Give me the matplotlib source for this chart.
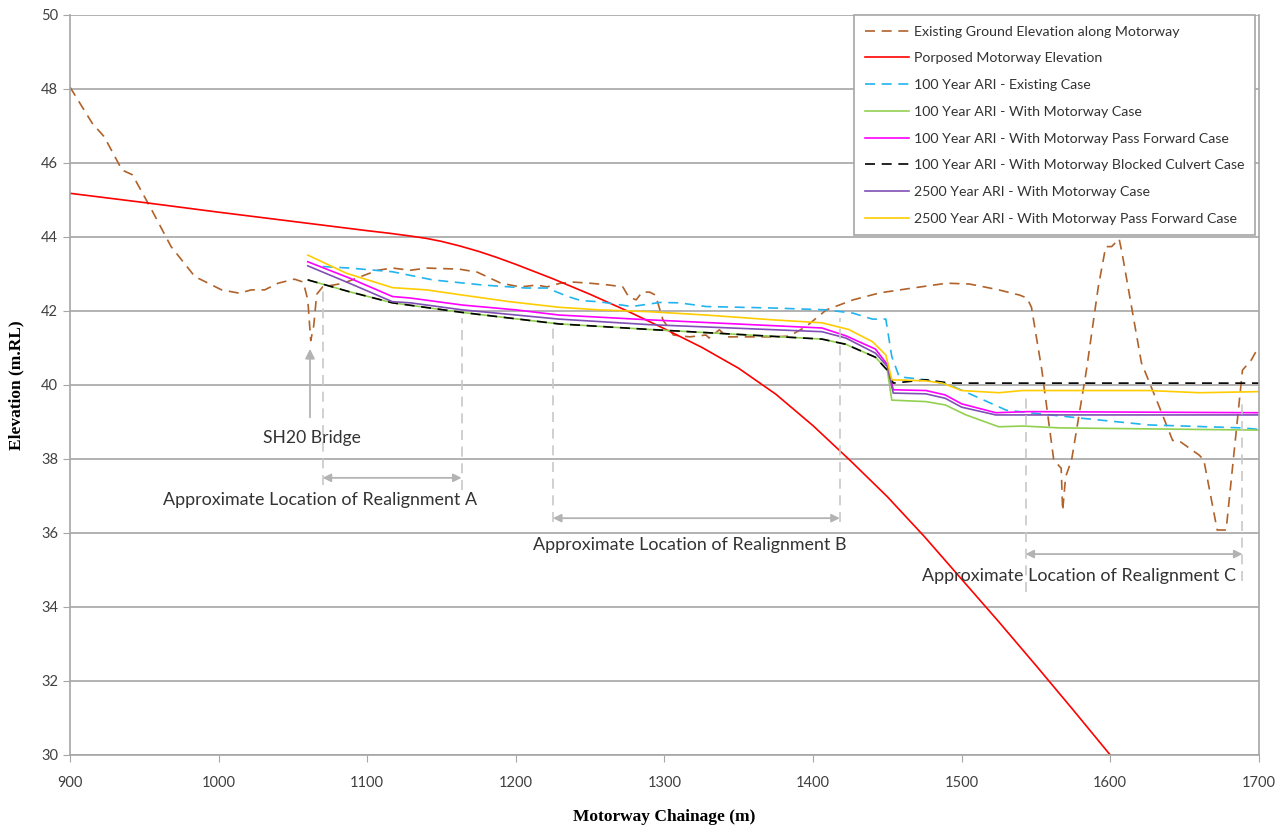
import matplotlib.pyplot as plt

# ------------------ Data ------------------
# existing ground along motorway
ground_x = [900, 915, 923, 935, 942, 955, 968, 984, 1002, 1014, 1022, 1031, 1040, 1051, 1057,
            1060, 1062, 1064, 1066, 1070, 1084, 1095, 1107, 1117, 1129, 1140, 1162, 1174, 1190,
            1203, 1214, 1221, 1230, 1239, 1250, 1263, 1272, 1276, 1281, 1285, 1290, 1294, 1299,
            1306, 1317, 1328, 1330, 1337, 1342, 1373, 1384, 1395, 1409, 1427, 1445, 1467, 1490,
            1505, 1514, 1525, 1539, 1544, 1547, 1554, 1562, 1567, 1568, 1570, 1574, 1584, 1592,
            1597, 1601, 1606, 1608, 1621, 1633, 1642, 1646, 1660, 1663, 1672, 1678, 1689, 1695, 1700]
ground_y = [48.05, 47.07, 46.71, 45.81, 45.68, 44.73, 43.74, 42.93, 42.57, 42.48, 42.57, 42.57, 42.75, 42.86, 42.78,
            42.3, 41.2, 41.6, 42.45, 42.65, 42.75, 42.92, 43.1, 43.16, 43.1, 43.16, 43.13, 43.05, 42.75,
            42.65, 42.7, 42.65, 42.75, 42.78, 42.75, 42.7, 42.65, 42.38, 42.3, 42.51, 42.51, 42.43, 41.76,
            41.35, 41.3, 41.35, 41.27, 41.49, 41.3, 41.3, 41.32, 41.57, 42.03, 42.3, 42.49, 42.62, 42.75,
            42.73, 42.66, 42.57, 42.43, 42.35, 42.1, 40.4, 37.97, 37.75, 36.6, 37.52, 37.97, 40.4, 42.66,
            43.74, 43.74, 43.95, 43.56, 40.6, 39.41, 38.5, 38.5, 38.1, 37.97, 36.08, 36.08, 40.4, 40.68, 41.04]

# proposed motorway
road_x = [900, 950, 1000, 1050, 1100, 1115, 1130, 1140, 1150, 1162, 1175, 1187, 1200, 1225, 1250, 1275, 1300,
          1325, 1350, 1375, 1400, 1425, 1450, 1475, 1500, 1525, 1550, 1575, 1600]
road_y = [45.18, 44.93, 44.67, 44.42, 44.17, 44.1, 44.02, 43.96, 43.88, 43.76, 43.61, 43.45, 43.26, 42.87, 42.45, 42.0, 41.52,
          41.02, 40.45, 39.75, 38.9, 37.96, 36.98, 35.9, 34.75, 33.6, 32.42, 31.22, 30.0]

# 100 yr existing
ex_x = [1070, 1088, 1117, 1144, 1178, 1207, 1221, 1235, 1244, 1256, 1278, 1297, 1310, 1328, 1373, 1409,
        1427, 1440, 1449, 1453, 1458, 1476, 1492, 1510, 1530, 1548, 1581, 1626, 1689, 1700]
ex_y = [43.2, 43.16, 43.06, 42.84, 42.7, 42.62, 42.62, 42.39, 42.28, 42.25, 42.12, 42.23, 42.22, 42.12, 42.08, 42.03,
        41.94, 41.78, 41.78, 40.77, 40.22, 40.14, 40.0, 39.68, 39.32, 39.24, 39.1, 38.92, 38.84, 38.8]

# 100 yr with motorway
wm_x = [1060, 1088, 1117, 1164, 1229, 1290, 1406, 1422, 1442, 1450, 1453, 1476, 1489, 1503, 1525, 1541, 1566, 1700]
wm_y = [42.84, 42.52, 42.22, 41.96, 41.65, 41.5, 41.24, 41.1, 40.75, 40.4, 39.59, 39.55, 39.46, 39.19, 38.87, 38.89, 38.84, 38.78]

# 100 yr pass forward
pf_x = [1060, 1088, 1117, 1129, 1164, 1200, 1229, 1290, 1406, 1422, 1442, 1450, 1454, 1476, 1489, 1500, 1523, 1545, 1700]
pf_y = [43.33, 42.89, 42.39, 42.35, 42.16, 42.03, 41.89, 41.76, 41.54, 41.33, 40.97, 40.55, 39.87, 39.85, 39.73, 39.49, 39.25, 39.28, 39.25]

# 100 yr blocked culvert
bc_x = [1060, 1088, 1117, 1164, 1229, 1290, 1406, 1422, 1442, 1450, 1454, 1476, 1492, 1700]
bc_y = [42.84, 42.52, 42.22, 41.96, 41.65, 41.5, 41.24, 41.1, 40.75, 40.4, 40.05, 40.14, 40.05, 40.05]

# 2500 yr with motorway
w25_x = [1060, 1088, 1117, 1129, 1164, 1229, 1290, 1406, 1422, 1442, 1450, 1454, 1476, 1489, 1500, 1523, 1700]
w25_y = [43.22, 42.75, 42.25, 42.22, 42.03, 41.78, 41.63, 41.44, 41.27, 40.86, 40.5, 39.78, 39.76, 39.64, 39.4, 39.19, 39.19]

# 2500 yr pass forward
pf25_x = [1060, 1086, 1117, 1140, 1164, 1196, 1229, 1256, 1290, 1328, 1373, 1406, 1424, 1440, 1449, 1453, 1462,
          1476, 1487, 1500, 1525, 1541, 1626, 1660, 1700]
pf25_y = [43.51, 43.02, 42.63, 42.57, 42.43, 42.25, 42.1, 42.03, 41.98, 41.89, 41.76, 41.68, 41.5, 41.17, 40.81, 40.14, 40.13,
          40.11, 40.05, 39.85, 39.79, 39.85, 39.85, 39.79, 39.82]

# realignment extents (chainage) and annotation levels
realign_names = ['A', 'B', 'C']
realign_start = [1070, 1225, 1543]
realign_end = [1163.5, 1418, 1689]
realign_arrow_y = [37.49, 36.4, 35.43]
realign_text_x = [1068, 1317, 1579]
realign_text_y = [36.9, 35.68, 34.84]
realign_top = [(42.6, 41.8), (41.7, 41.8), (39.65, 39.6)]
realign_bottom = [(37.3, 37.15), (36.3, 36.3), (34.4, 34.7)]

# ------------------ Plot ------------------
plt.rcParams['font.family'] = ['Lato', 'DejaVu Sans']
fig = plt.figure(figsize=(12.87, 8.27), dpi=100)
ax = fig.add_axes([0.0544, 0.0871, 0.9237, 0.8948])

lw = 1.2
ax.plot(ground_x, ground_y, color='#b0622a', lw=lw, dashes=(6, 4), label='Existing Ground Elevation along Motorway')
ax.plot(road_x, road_y, color='#ff0000', lw=lw, label='Porposed Motorway Elevation')
ax.plot(ex_x, ex_y, color='#22b4ee', lw=lw, dashes=(6, 4), label='100 Year ARI - Existing Case')
ax.plot(wm_x, wm_y, color='#92d050', lw=lw, label='100 Year ARI - With Motorway Case')
ax.plot(pf_x, pf_y, color='#ff00ff', lw=lw, label='100 Year ARI - With Motorway Pass Forward Case')
ax.plot(bc_x, bc_y, color='#000000', lw=lw, dashes=(6, 4), label='100 Year ARI - With Motorway Blocked Culvert Case')
ax.plot(w25_x, w25_y, color='#7f4fb5', lw=lw, label='2500 Year ARI - With Motorway Case')
ax.plot(pf25_x, pf25_y, color='#ffcc00', lw=lw, label='2500 Year ARI - With Motorway Pass Forward Case')

# annotations
ann_col = '#b3b3b3'
ax.annotate('', xy=(1061.5, 41.05), xytext=(1061.5, 39.05),
            arrowprops=dict(arrowstyle='-|>', color=ann_col, lw=1.3, mutation_scale=14))
ax.text(1063, 38.57, 'SH20 Bridge', ha='center', va='center', fontsize=12.6, color='#333333')

for i in range(3):
    x0, x1 = realign_start[i], realign_end[i]
    ax.plot([x0, x0], [realign_bottom[i][0], realign_top[i][0]], color='#c8c8c8', lw=1.2, dashes=(6, 4))
    ax.plot([x1, x1], [realign_bottom[i][1], realign_top[i][1]], color='#c8c8c8', lw=1.2, dashes=(6, 4))
    ax.annotate('', xy=(x0, realign_arrow_y[i]), xytext=(x1, realign_arrow_y[i]),
                arrowprops=dict(arrowstyle='<|-|>', color=ann_col, lw=1.3, mutation_scale=12,
                                shrinkA=0, shrinkB=0))
    ax.text(realign_text_x[i], realign_text_y[i], 'Approximate Location of Realignment ' + realign_names[i],
            ha='center', va='center', fontsize=12.9, color='#333333')

# axes
ax.set_xlim(900, 1700)
ax.set_ylim(30, 50)
ax.set_xticks(range(900, 1701, 100))
ax.set_yticks(range(30, 51, 2))
ax.yaxis.grid(True, color='#a6a6a6', lw=1.2)
ax.set_axisbelow(True)
for s in ['left', 'bottom', 'right']:
    ax.spines[s].set_color('#a6a6a6')
    ax.spines[s].set_linewidth(1.2)
ax.spines['top'].set_visible(False)
ax.tick_params(axis='both', direction='out', length=5, color='#a6a6a6', labelsize=10.5, labelcolor='#404040')
ax.tick_params(axis='x', pad=10)

ax.set_xlabel('Motorway Chainage (m)', fontsize=12.5, fontweight='bold', family='Liberation Serif', labelpad=14)
ax.set_ylabel('Elevation (m.RL)', fontsize=12.5, fontweight='bold', family='Liberation Serif', labelpad=12)

leg = ax.legend(loc='upper right', bbox_to_anchor=(0.997, 1.0), borderaxespad=0, fontsize=10.2,
                handlelength=3.15, handletextpad=0.35, labelspacing=1.04, borderpad=0.75, fancybox=False,
                framealpha=1)
leg.get_frame().set_edgecolor('#a6a6a6')
leg.get_frame().set_linewidth(1.2)
for t in leg.get_texts():
    t.set_color('#333333')

fig.savefig('out.png', dpi=100)
